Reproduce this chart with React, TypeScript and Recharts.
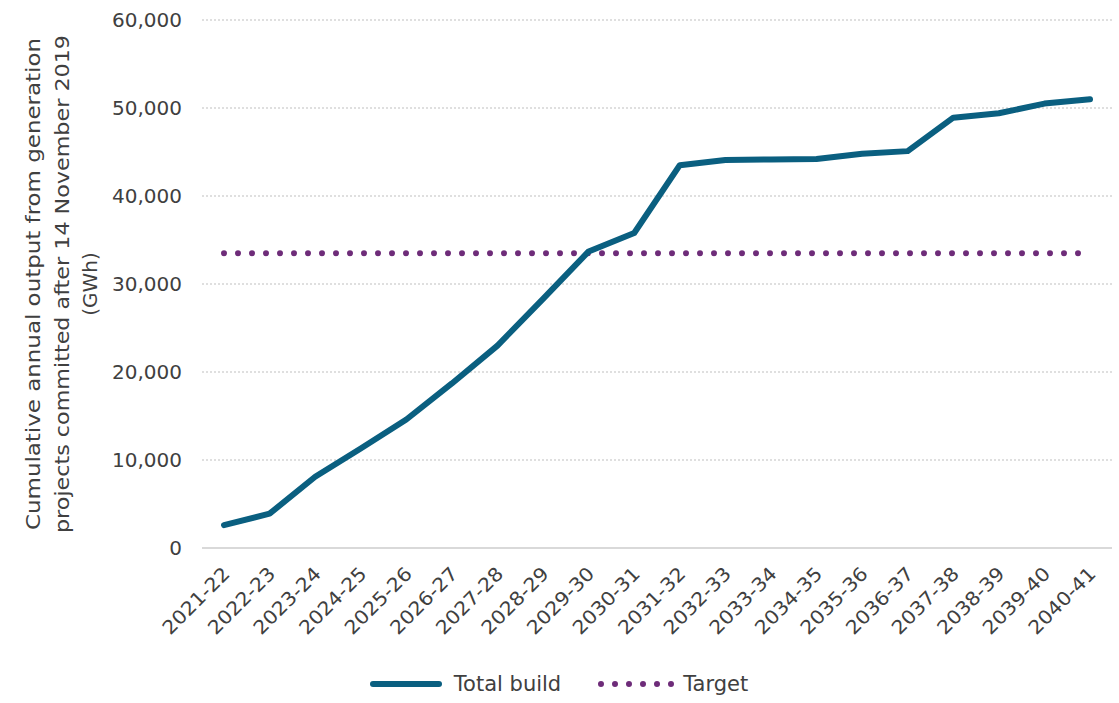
import React from 'react';
import { LineChart, Line, XAxis, YAxis, CartesianGrid, Legend } from 'recharts';

const categories = [
  '2021-22', '2022-23', '2023-24', '2024-25', '2025-26', '2026-27', '2027-28',
  '2028-29', '2029-30', '2030-31', '2031-32', '2032-33', '2033-34', '2034-35',
  '2035-36', '2036-37', '2037-38', '2038-39', '2039-40', '2040-41',
];

const totalBuild = [
  2600, 3900, 8100, 11300, 14600, 18700, 23000, 28300, 33700, 35800,
  43500, 44100, 44150, 44200, 44800, 45100, 48900, 49400, 50500, 51000,
];

const target = [
  33500, 33500, 33500, 33500, 33500, 33500, 33500, 33500, 33500, 33500,
  33500, 33500, 33500, 33500, 33500, 33500, 33500, 33500, 33500, 33500,
];

const yTicks = [0, 10000, 20000, 30000, 40000, 50000, 60000];

const TEAL = '#0A5F80';
const PURPLE = '#6E2C79';
const TEXT = '#404040';
const FONT = '"DejaVu Sans", sans-serif';

const data = categories.map((c, i) => ({ year: c, total: totalBuild[i], target: target[i] }));

const XTick = ({ x, y, payload }: any) => {
  const ax = x + 7;
  const ay = y + 27;
  return (
    <text
      x={ax}
      y={ay}
      transform={`rotate(-45, ${ax}, ${ay})`}
      textAnchor="end"
      fill={TEXT}
      fontSize={19}
      fontFamily={FONT}
      textLength={86}
      lengthAdjust="spacingAndGlyphs"
    >
      {payload.value}
    </text>
  );
};

const YLabel = ({ viewBox }: any) => {
  const cy = viewBox.y + viewBox.height / 2;
  const lines: [string, number, number][] = [
    ['Cumulative annual output from generation', 33, 492],
    ['projects committed after 14 November 2019', 62, 498],
    ['(GWh)', 90, 0],
  ];
  return (
    <g>
      {lines.map(([t, lx, len]) => (
        <text
          key={t}
          x={lx}
          y={cy}
          transform={`rotate(-90, ${lx}, ${cy})`}
          textAnchor="middle"
          dominantBaseline="central"
          fill={TEXT}
          fontSize={20}
          fontFamily={FONT}
          {...(len ? { textLength: len, lengthAdjust: 'spacingAndGlyphs' } : {})}
        >
          {t}
        </text>
      ))}
    </g>
  );
};

const LegendContent = () => (
  <div style={{ position: 'relative', top: 9, display: 'flex', justifyContent: 'center', alignItems: 'center', fontFamily: FONT, fontSize: 21, color: TEXT, paddingLeft: 6 }}>
    <svg width={72} height={10}>
      <line x1={3} y1={5} x2={69} y2={5} stroke={TEAL} strokeWidth={6} strokeLinecap="round" />
    </svg>
    <span style={{ marginLeft: 12, marginRight: 36 }}>Total build</span>
    <svg width={78} height={10}>
      <line x1={4} y1={5} x2={75} y2={5} stroke={PURPLE} strokeWidth={6} strokeDasharray="0 14" strokeLinecap="round" />
    </svg>
    <span style={{ marginLeft: 8 }}>Target</span>
  </div>
);

export default function App() {
  return (
    <div style={{ position: 'absolute', left: 0, top: 0, width: 1119, height: 703, background: '#fff' }}>
      <LineChart width={1119} height={703} data={data} margin={{ top: 20, right: 7, bottom: 0, left: 0 }}>
        <CartesianGrid vertical={false} stroke="#BFBFBF" strokeDasharray="2 2" horizontalValues={[10000, 20000, 30000, 40000, 50000, 60000]} />
        <XAxis
          dataKey="year"
          interval={0}
          height={115}
          padding={{ left: 22, right: 22 }}
          tickLine={false}
          tickSize={0}
          tickMargin={0}
          axisLine={{ stroke: '#D9D9D9', strokeWidth: 2 }}
          tick={<XTick />}
        />
        <YAxis
          width={202}
          domain={[0, 60000]}
          ticks={yTicks}
          interval={0}
          axisLine={false}
          tickLine={false}
          tickMargin={14}
          tickFormatter={(v: number) => v.toLocaleString('en-US')}
          tick={{ fill: TEXT, fontSize: 20, fontFamily: FONT }}
          label={<YLabel />}
        />
        <Legend verticalAlign="bottom" height={40} content={<LegendContent />} />
        <Line
          dataKey="target"
          stroke={PURPLE}
          strokeWidth={6}
          strokeDasharray="0 14"
          strokeLinecap="round"
          dot={false}
          activeDot={false}
          isAnimationActive={false}
        />
        <Line
          dataKey="total"
          stroke={TEAL}
          strokeWidth={6}
          strokeLinejoin="round"
          strokeLinecap="round"
          dot={false}
          activeDot={false}
          isAnimationActive={false}
        />
      </LineChart>
    </div>
  );
}
